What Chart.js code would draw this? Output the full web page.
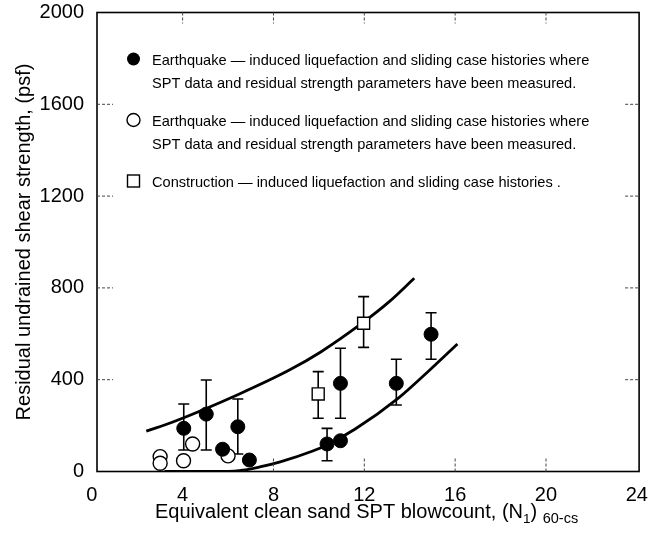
<!DOCTYPE html>
<html>
<head>
<meta charset="utf-8">
<script src="https://cdn.jsdelivr.net/npm/chart.js@4.4.1/dist/chart.umd.min.js"></script>
<style>
  html, body { margin: 0; padding: 0; background: #fff; }
  #wrap { width: 649px; height: 539px; }
</style>
</head>
<body>
<div id="wrap"><canvas id="residualChart"></canvas></div>
<script>
// values
const xTicks = [0, 4, 8, 12, 16, 20, 24];
const yTicks = [0, 400, 800, 1200, 1600, 2000];

// earthquake cases, filled circles (lo/hi = error bar ends, null = no bar)
const filledX  = [4.05, 5.04, 5.76, 6.43, 6.94, 10.36, 10.95, 10.95, 13.41, 14.94];
const filledY  = [188, 250, 97, 195, 50, 120, 134, 384, 384, 598];
const filledLo = [94, 94, null, 76, null, 47, null, 232, 290, 489];
const filledHi = [294, 399, null, 316, null, 188, null, 537, 489, 692];

// earthquake cases, open circles
const openX = [3.01, 3.01, 4.04, 4.44, 6.0];
const openY = [65, 36, 47, 120, 68];

// construction cases, open squares
const squareX  = [9.97, 11.97];
const squareY  = [338, 646];
const squareLo = [232, 541];
const squareHi = [435, 762];

// bounding curves
const upperX = [2.4, 3.6, 6.5, 8.7, 10.1, 11.9, 13.1, 14.2];
const upperY = [176, 217, 338, 442, 522, 646, 740, 842];
const lowerX = [3.2, 5.3, 6.5, 7.4, 8.3, 9.7, 10.4, 11.6, 13.5, 14.8, 16.1];
const lowerY = [0, 0, 4, 20, 42, 88, 118, 185, 320, 435, 556];

const legendText = [
    ['Earthquake \u2014 induced liquefaction and sliding case histories where',
     'SPT data and residual strength parameters have been measured.'],
    ['Earthquake \u2014 induced liquefaction and sliding case histories where',
     'SPT data and residual strength parameters have been measured.'],
    ['Construction \u2014 induced liquefaction and sliding case histories .']
];

const FONT = '"Liberation Sans", Arial, Helvetica, sans-serif';

function pts(xs, ys) {
    return xs.map((x, i) => ({ x: x, y: ys[i] }));
}

function dashLine(ctx, x1, y1, x2, y2) {
    ctx.beginPath();
    ctx.moveTo(x1, y1);
    ctx.lineTo(x2, y2);
    ctx.stroke();
}

function drawBars(ctx, xs, ys, lo, hi, sx, sy) {
    for (let i = 0; i < xs.length; i++) {
        if (lo[i] == null) continue;
        const px = sx.getPixelForValue(xs[i]);
        const top = sy.getPixelForValue(hi[i]);
        const bot = sy.getPixelForValue(lo[i]);
        ctx.beginPath();
        ctx.moveTo(px, top); ctx.lineTo(px, bot);
        ctx.moveTo(px - 5.5, top); ctx.lineTo(px + 5.5, top);
        ctx.moveTo(px - 5.5, bot); ctx.lineTo(px + 5.5, bot);
        ctx.stroke();
    }
}

const decorations = {
    id: 'decorations',
    beforeDatasetsDraw(chart) {
        const ctx = chart.ctx;
        const sx = chart.scales.x, sy = chart.scales.y;
        ctx.save();
        ctx.strokeStyle = '#000';
        ctx.lineWidth = 1.6;
        drawBars(ctx, filledX, filledY, filledLo, filledHi, sx, sy);
        drawBars(ctx, squareX, squareY, squareLo, squareHi, sx, sy);
        ctx.restore();
    },
    afterDraw(chart) {
        const ctx = chart.ctx;
        const a = chart.chartArea;
        const sx = chart.scales.x, sy = chart.scales.y;
        ctx.save();

        // frame
        ctx.strokeStyle = '#000';
        ctx.lineWidth = 1.6;
        ctx.strokeRect(a.left, a.top, a.right - a.left, a.bottom - a.top);

        // short dotted tick marks inside the frame
        ctx.strokeStyle = '#444';
        ctx.lineWidth = 1;
        ctx.setLineDash([3, 2]);
        [400, 800, 1200, 1600].forEach(v => {
            const py = sy.getPixelForValue(v);
            dashLine(ctx, a.left, py, a.left + 16, py);
            dashLine(ctx, a.right - 14, py, a.right, py);
        });
        [4, 8, 12, 16, 20].forEach(v => {
            const px = sx.getPixelForValue(v);
            dashLine(ctx, px, a.top, px, a.top + 11);
        });
        [8, 12, 16, 20].forEach(v => {
            const px = sx.getPixelForValue(v);
            dashLine(ctx, px, a.bottom, px, a.bottom - 13);
        });
        ctx.setLineDash([]);

        // legend
        const mx = 133.5, tx = 152;
        const rows = [59, 120, 181];
        ctx.fillStyle = '#000';
        ctx.strokeStyle = '#000';
        ctx.lineWidth = 1.4;
        ctx.beginPath(); ctx.arc(mx, rows[0], 6.5, 0, Math.PI * 2); ctx.fill();
        ctx.fillStyle = '#fff';
        ctx.beginPath(); ctx.arc(mx, rows[1], 6.5, 0, Math.PI * 2); ctx.fill(); ctx.stroke();
        ctx.fillRect(mx - 6, rows[2] - 6, 12, 12);
        ctx.strokeRect(mx - 6, rows[2] - 6, 12, 12);

        ctx.fillStyle = '#000';
        ctx.font = '14.6px ' + FONT;
        ctx.textBaseline = 'middle';
        ctx.textAlign = 'left';
        legendText.forEach((lines, r) => {
            lines.forEach((t, k) => {
                ctx.fillText(t, tx, rows[r] + 2 + k * 23, 438);
            });
        });

        // x axis title with subscripts
        ctx.textBaseline = 'alphabetic';
        let x = 155;
        const base = 518;
        ctx.font = '20px ' + FONT;
        const p1 = 'Equivalent clean sand SPT blowcount, (N';
        ctx.fillText(p1, x, base); x += ctx.measureText(p1).width;
        ctx.font = '13.5px ' + FONT;
        ctx.fillText('1', x, base + 5); x += ctx.measureText('1').width;
        ctx.font = '20px ' + FONT;
        ctx.fillText(')', x, base); x += ctx.measureText(') ').width;
        ctx.font = '14.5px ' + FONT;
        ctx.fillText('60-cs', x, base + 4.5);

        ctx.restore();
    }
};

const ctx = document.getElementById('residualChart');

new Chart(ctx, {
    type: 'scatter',
    data: {
        datasets: [
            {
                label: 'Earthquake (measured)',
                data: pts(filledX, filledY),
                pointStyle: 'circle',
                pointRadius: 7,
                backgroundColor: '#000',
                borderColor: '#000',
                borderWidth: 1
            },
            {
                label: 'Earthquake (open)',
                data: pts(openX, openY),
                pointStyle: 'circle',
                pointRadius: 7,
                backgroundColor: '#fff',
                borderColor: '#000',
                borderWidth: 1.4
            },
            {
                label: 'Construction',
                data: pts(squareX, squareY),
                pointStyle: 'rect',
                pointRadius: 8.5,
                backgroundColor: '#fff',
                borderColor: '#000',
                borderWidth: 1.4
            },
            {
                label: 'upper bound',
                data: pts(upperX, upperY),
                showLine: true,
                pointRadius: 0,
                borderColor: '#000',
                borderWidth: 2.8,
                cubicInterpolationMode: 'monotone'
            },
            {
                label: 'lower bound',
                data: pts(lowerX, lowerY),
                showLine: true,
                pointRadius: 0,
                borderColor: '#000',
                borderWidth: 2.8,
                cubicInterpolationMode: 'monotone'
            }
        ]
    },
    options: {
        responsive: true,
        maintainAspectRatio: false,
        animation: false,
        layout: { padding: { top: 12.5, right: 8, left: 0, bottom: 0 } },
        plugins: {
            legend: { display: false },
            tooltip: { enabled: false }
        },
        scales: {
            x: {
                type: 'linear',
                min: 0.23,
                max: 24.1,
                afterBuildTicks: (axis) => { axis.ticks = xTicks.map(v => ({ value: v })); },
                afterFit: (axis) => {
                    axis.height = 67.5;
                    axis.paddingLeft = 0;
                    axis.paddingRight = 0;
                },
                grid: { display: false, drawTicks: false },
                border: { display: false },
                ticks: {
                    color: '#000',
                    font: { family: FONT, size: 20 },
                    padding: 12,
                    maxRotation: 0,
                    autoSkip: false,
                    callback: (v) => String(v)
                }
            },
            y: {
                type: 'linear',
                min: 0,
                max: 2000,
                afterBuildTicks: (axis) => { axis.ticks = yTicks.map(v => ({ value: v })); },
                afterFit: (axis) => {
                    axis.width = 97;
                    axis.paddingTop = 0;
                    axis.paddingBottom = 0;
                },
                grid: { display: false, drawTicks: false },
                border: { display: false },
                ticks: {
                    color: '#000',
                    font: { family: FONT, size: 20 },
                    padding: 13,
                    callback: (v) => String(v)
                },
                title: {
                    display: true,
                    text: 'Residual undrained shear strength, (psf)',
                    color: '#000',
                    font: { family: FONT, size: 20 },
                    padding: { top: 12, bottom: 0 }
                }
            }
        }
    },
    plugins: [decorations]
});
</script>
</body>
</html>
